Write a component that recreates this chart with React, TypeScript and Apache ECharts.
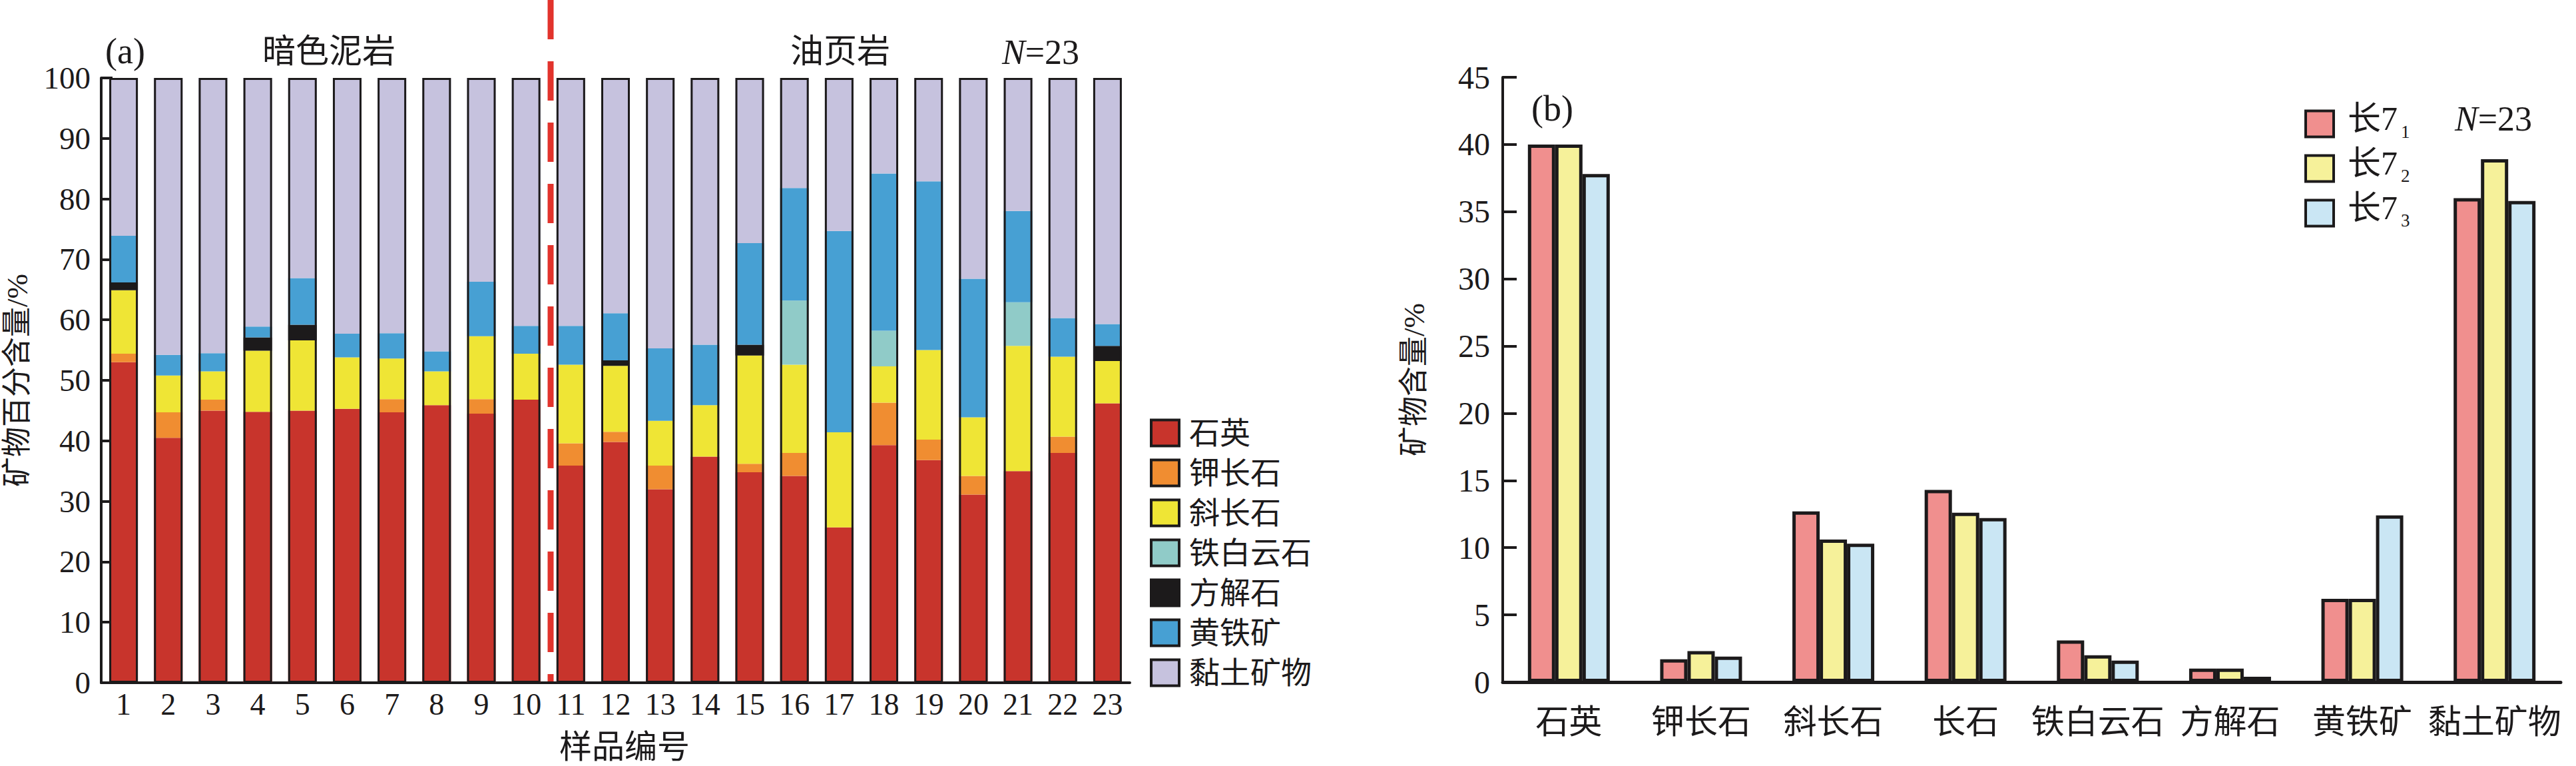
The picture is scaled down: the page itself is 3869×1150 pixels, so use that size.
import React, { useEffect, useRef } from "react";
import * as echarts from "echarts";

// (a) 样品矿物组成, %
const samples = ["1", "2", "3", "4", "5", "6", "7", "8", "9", "10", "11", "12", "13", "14", "15", "16", "17", "18", "19", "20", "21", "22", "23"];
const quartz = [53.0, 40.5, 45.0, 44.8, 45.0, 45.3, 44.7, 45.9, 44.5, 46.8, 35.9, 39.8, 32.0, 37.4, 34.8, 34.2, 25.7, 39.3, 36.8, 31.1, 35.0, 38.0, 46.2];
const kFeldspar = [1.4, 4.2, 1.8, 0, 0, 0, 2.2, 0, 2.4, 0, 3.7, 1.7, 3.9, 0, 1.4, 3.8, 0, 7.0, 3.4, 3.1, 0, 2.7, 0];
const plagioclase = [10.5, 6.1, 4.7, 10.1, 11.6, 8.5, 6.7, 5.6, 10.4, 7.6, 13.0, 10.9, 7.4, 8.5, 17.9, 14.6, 15.7, 6.0, 14.8, 9.7, 20.7, 13.2, 7.0];
const ankerite = [0, 0, 0, 0, 0, 0, 0, 0, 0, 0, 0, 0, 0, 0, 0, 10.6, 0, 5.9, 0, 0, 7.2, 0, 0];
const calcite = [1.3, 0, 0, 2.2, 2.6, 0, 0, 0, 0, 0, 0, 0.9, 0, 0, 1.8, 0, 0, 0, 0, 0, 0, 0, 2.5];
const pyrite = [7.7, 3.4, 3.0, 1.8, 7.7, 3.9, 4.2, 3.3, 9.0, 4.6, 6.4, 7.8, 12.0, 10.0, 16.8, 18.6, 33.3, 26.0, 27.9, 22.9, 15.1, 6.4, 3.6];
const clay = [26.1, 45.8, 45.5, 41.1, 33.1, 42.3, 42.2, 45.2, 33.7, 41.0, 41.0, 38.9, 44.7, 44.1, 27.3, 18.2, 25.3, 15.8, 17.1, 33.2, 22.0, 39.7, 40.7];

const mineralNamesA = ["石英", "钾长石", "斜长石", "铁白云石", "方解石", "黄铁矿", "黏土矿物"];
const mineralColorsA = ["#c8342c", "#f08d31", "#efe535", "#90cbc8", "#1c1a1b", "#47a0d3", "#c6c2de"];
const yTicksA = { min: 0, max: 100, interval: 10 };

// (b) 各层段平均矿物含量, %
const minerals = ["石英", "钾长石", "斜长石", "长石", "铁白云石", "方解石", "黄铁矿", "黏土矿物"];
const chang71 = [40.0, 1.7, 12.7, 14.3, 3.1, 1.0, 6.2, 36.0];
const chang72 = [40.0, 2.3, 10.6, 12.6, 2.0, 1.0, 6.2, 38.9];
const chang73 = [37.8, 1.9, 10.3, 12.2, 1.6, 0.4, 12.4, 35.8];
const layerNames = ["长71", "长72", "长73"];
const layerColors = ["#f08f8e", "#f6f19a", "#cae6f4"];
const yTicksB = { min: 0, max: 45, interval: 5 };

const FONT = "'Liberation Serif', 'Times New Roman', 'Noto Sans CJK SC', serif";
const INK = "#1c1a1b";

const App: React.FC = () => {
  const chartRef = useRef<HTMLDivElement>(null);

  useEffect(() => {
    if (!chartRef.current) return;
    const chart = echarts.init(chartRef.current, null, { renderer: "svg" });

    const stackA = [quartz, kFeldspar, plagioclase, ankerite, calcite, pyrite, clay];
    const totals = samples.map((_, i) => stackA.reduce((s, arr) => s + arr[i], 0));

    const seriesA = stackA.map((arr, k) => ({
      name: mineralNamesA[k],
      type: "bar",
      stack: "a",
      xAxisIndex: 0,
      yAxisIndex: 0,
      barWidth: 43,
      data: arr,
      itemStyle: { color: mineralColorsA[k] },
    }));

    // 柱子外框
    const outline = {
      name: "outline",
      type: "bar",
      xAxisIndex: 0,
      yAxisIndex: 0,
      barWidth: 43,
      barGap: "-100%",
      z: 3,
      silent: true,
      data: totals,
      itemStyle: { color: "rgba(0,0,0,0)", borderColor: INK, borderWidth: 3 },
    };

    const seriesB = [chang71, chang72, chang73].map((arr, k) => ({
      name: layerNames[k],
      type: "bar",
      xAxisIndex: 1,
      yAxisIndex: 1,
      barWidth: 41,
      barGap: "0%",
      data: arr,
      itemStyle: { color: layerColors[k], borderColor: INK, borderWidth: 5 },
    }));

    const axisLabel = { fontFamily: FONT, fontSize: 48, color: INK };

    const option = {
      animation: false,
      backgroundColor: "#ffffff",
      grid: [
        { left: 152, top: 117, width: 1545, height: 908 },
        { left: 2257, top: 116, width: 1589, height: 908 },
      ],
      legend: [
        {
          orient: "vertical",
          left: 1722,
          top: 622,
          itemWidth: 42,
          itemHeight: 39,
          itemGap: 14,
          icon: "rect",
          data: mineralNamesA,
          itemStyle: { borderColor: INK, borderWidth: 4 },
          textStyle: { fontFamily: FONT, fontSize: 46, lineHeight: 46, color: INK, padding: [0, 0, 0, 10] },
        },
        {
          orient: "vertical",
          left: 3456,
          top: 148,
          itemWidth: 42,
          itemHeight: 39,
          itemGap: 9,
          icon: "rect",
          data: layerNames,
          itemStyle: { borderColor: INK, borderWidth: 4 },
          formatter: (n: string) => `{m|长7}{s|${n.slice(2)}}`,
          textStyle: {
            fontFamily: FONT,
            color: INK,
            padding: [0, 0, 0, 16],
            rich: {
              m: { fontFamily: FONT, fontSize: 50, lineHeight: 50, color: INK, verticalAlign: "bottom", padding: [0, 0, 8, 0] },
              s: { fontFamily: FONT, fontSize: 27, lineHeight: 27, color: INK, verticalAlign: "bottom", padding: [0, 0, 0, 5] },
            },
          },
        },
      ],
      xAxis: [
        {
          type: "category",
          gridIndex: 0,
          data: samples,
          axisLine: { lineStyle: { color: INK, width: 4 } },
          axisTick: { show: false },
          axisLabel: { ...axisLabel, fontSize: 46, margin: 9, interval: 0 },
        },
        {
          type: "category",
          gridIndex: 1,
          data: minerals,
          axisLine: { lineStyle: { color: INK, width: 5 } },
          axisTick: { show: false },
          axisLabel: { ...axisLabel, fontSize: 50, margin: 35, interval: 0 },
        },
      ],
      yAxis: [
        {
          type: "value",
          gridIndex: 0,
          ...yTicksA,
          axisLine: { show: true, lineStyle: { color: INK, width: 4 } },
          axisTick: { show: true, inside: true, length: 17, lineStyle: { color: INK, width: 4 } },
          splitLine: { show: false },
          axisLabel: { ...axisLabel, fontSize: 47, margin: 16 },
          name: "矿物百分含量/%",
          nameLocation: "middle",
          nameGap: 104,
          nameTextStyle: { fontFamily: FONT, fontSize: 45, color: INK },
        },
        {
          type: "value",
          gridIndex: 1,
          ...yTicksB,
          axisLine: { show: true, lineStyle: { color: INK, width: 4 } },
          axisTick: { show: true, inside: true, length: 21, lineStyle: { color: INK, width: 4 } },
          splitLine: { show: false },
          axisLabel: { ...axisLabel, margin: 19 },
          name: "矿物含量/%",
          nameLocation: "middle",
          nameGap: 111,
          nameTextStyle: { fontFamily: FONT, fontSize: 45, color: INK },
        },
      ],
      graphic: [
        // 分界虚线
        {
          type: "line",
          shape: { x1: 827, y1: 0, x2: 827, y2: 1023 },
          style: { stroke: "#e2332c", lineWidth: 9, lineDash: [59, 33] },
          z: 10,
        },
        {
          type: "text",
          style: { text: "(a)", x: 158, y: 77, fontFamily: FONT, fontSize: 54, fill: INK, verticalAlign: "middle" },
        },
        {
          type: "text",
          style: { text: "暗色泥岩", x: 494, y: 77, fontFamily: FONT, fontSize: 50, fill: INK, align: "center", verticalAlign: "middle" },
        },
        {
          type: "text",
          style: { text: "油页岩", x: 1262, y: 77, fontFamily: FONT, fontSize: 50, fill: INK, align: "center", verticalAlign: "middle" },
        },
        {
          type: "text",
          style: {
            text: "{i|N}=23",
            x: 1563,
            y: 78,
            align: "center",
            verticalAlign: "middle",
            fontFamily: FONT,
            fontSize: 52,
            fill: INK,
            rich: { i: { fontFamily: FONT, fontSize: 52, fontStyle: "italic", fill: INK } },
          },
        },
        {
          type: "text",
          style: { text: "样品编号", x: 938, y: 1121, fontFamily: FONT, fontSize: 49, fill: INK, align: "center", verticalAlign: "middle" },
        },
        {
          type: "text",
          style: { text: "(b)", x: 2300, y: 163, fontFamily: FONT, fontSize: 54, fill: INK, verticalAlign: "middle" },
        },
        {
          type: "text",
          style: {
            text: "{i|N}=23",
            x: 3745,
            y: 178,
            align: "center",
            verticalAlign: "middle",
            fontFamily: FONT,
            fontSize: 52,
            fill: INK,
            rich: { i: { fontFamily: FONT, fontSize: 52, fontStyle: "italic", fill: INK } },
          },
        },
      ],
      series: [...seriesA, outline, ...seriesB],
    };

    chart.setOption(option);
    return () => {
      chart.dispose();
    };
  }, []);

  return (
    <div
      ref={chartRef}
      style={{ position: "absolute", left: 0, top: 0, width: "3869px", height: "1150px" }}
    ></div>
  );
};

export default App;
